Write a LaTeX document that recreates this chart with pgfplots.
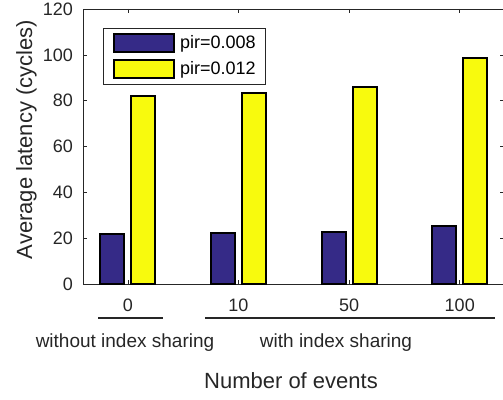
\documentclass[border=0pt]{standalone}
\usepackage{fontspec}
\setmainfont{Liberation Sans}
\usepackage{pgfplots}
\pgfplotsset{compat=1.18}
\definecolor{mblue}{RGB}{53,42,135}
\definecolor{myellow}{RGB}{248,250,13}
\definecolor{axgray}{RGB}{38,38,38}
\begin{document}
\begin{tikzpicture}[x=1pt,y=1pt]
\useasboundingbox (0,0) rectangle (503,399);
\begin{axis}[
  at={(83pt,115pt)}, anchor=south west,
  scale only axis, width=421pt, height=275pt,
  xmin=0.595, xmax=4.4, ymin=0, ymax=120,
  ybar=7pt, bar width=24pt,
  xtick={1,2,3,4}, xticklabels={0,10,50,100},
  ytick={0,20,40,60,80,100,120},
  tick align=inside, major tick length=4pt,
  tick style={axgray, line width=0.6pt},
  axis line style={axgray, line width=0.8pt},
  /pgf/number format/assume math mode=true,
  ticklabel style={font=\fontsize{18}{20}\selectfont, text=axgray},
  yticklabel style={inner sep=0pt, xshift=-10pt},
  xticklabel style={inner sep=0pt, yshift=-15pt},
  legend style={at={(rel axis cs:0.0475,0.931)}, anchor=north west,
    draw=axgray, line width=0.6pt, fill=white,
    font=\fontsize{18}{20}\selectfont, text=black,
    inner xsep=10pt, inner ysep=5pt, row sep=6pt,
    nodes={inner sep=0pt}},
  legend cell align=left,
  legend image code/.code={\draw[#1, line width=1.8pt] (0pt,-9pt) rectangle (60pt,9pt);},
]
\addplot[fill=mblue, draw=black, line width=1.9pt] coordinates {(1,21.7) (2,22.2) (3,22.5) (4,25.5)};
\addplot[fill=myellow, draw=black, line width=1.9pt] coordinates {(1,82.0) (2,83.2) (3,86.1) (4,98.6)};
\legend{\hspace{5pt}pir=0.008, \hspace{5pt}pir=0.012}
\end{axis}
\draw[axgray, line width=1.1pt] (98,81) -- (163,81);
\draw[axgray, line width=1.1pt] (205,81) -- (495,81);
\node[anchor=base, inner sep=0pt, font=\fontsize{19}{21}\selectfont, text=axgray] at (125,52) {without index sharing};
\node[anchor=base, inner sep=0pt, font=\fontsize{19}{21}\selectfont, text=axgray] at (336,52) {with index sharing};
\node[anchor=base, inner sep=0pt, font=\fontsize{22}{24}\selectfont, text=axgray] at (291,11) {Number of events};
\node[anchor=base, rotate=90, inner sep=0pt, font=\fontsize{22}{24}\selectfont, text=axgray] at (32,259.5) {Average latency (cycles)};
\end{tikzpicture}
\end{document}
